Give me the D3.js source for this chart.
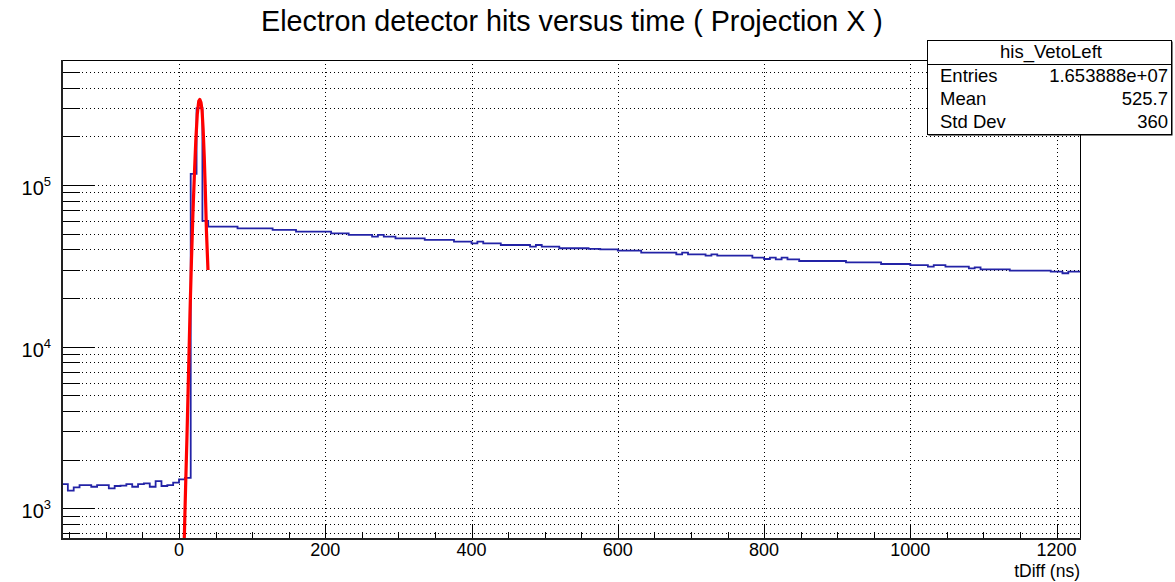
<!DOCTYPE html>
<html><head><meta charset="utf-8">
<script src="https://cdn.jsdelivr.net/npm/d3@7"></script>
<style>
body{margin:0;background:#fff}
svg{display:block}
text{font-family:"Liberation Sans",Arial,Helvetica,sans-serif;fill:#000}
</style>
</head><body><svg id="c" width="1175" height="582"></svg>
<script>
// ---------------- data ----------------
const title = "Electron detector hits versus time ( Projection X )";
const xTitle = "tDiff (ns)";
const binStart = -160, binWidth = 8;
const counts = [
  1413,1285,1348,1393,1393,1360,1393,1393,1329,1374,
  1380,1413,1360,1413,1427,1360,1475,1374,1393,1440,
  1510,1545,117000,299000,59900,
  55230,55230,55230,55230,55230,
  53950,53950,53950,53950,53950,53950,
  52710,52710,52710,52710,
  51450,51450,51450,51450,51450,51450,
  50230,50230,50230,
  49070,49070,49070,49070,
  47900,49070,47900,47900,
  46790,46790,46790,46790,46790,
  45700,45700,45700,45700,45700,
  44600,44600,44600,43570,44600,
  43570,43570,43570,
  42550,42550,42550,42550,42550,41530,42550,
  41530,41530,41530,
  40600,40600,40600,40600,40600,
  40300,40300,40000,40000,40000,
  39250,39250,39250,39250,
  38130,38130,38130,38130,38130,38130,37250,38130,
  37250,37250,37250,36530,37250,
  36530,36530,36530,36530,36530,36530,
  35500,35500,34840,35500,34700,35500,34700,34700,
  33870,33870,33870,33870,33870,33870,33870,33870,
  33240,33240,33240,33240,33240,33240,
  32440,32440,32440,32440,32440,
  31980,31980,31980,31240,31980,31980,
  31240,31240,31240,31240,30530,30900,
  30100,30100,30100,30100,30100,
  29520,29520,29520,29520,29520,29520,29520,
  29100,29100,28440,29100,29100
];
const fitX = [7, 9, 11, 13, 15, 17, 19, 21, 23, 25, 27, 28.5, 30, 31.5, 33, 34.5, 36, 37.5, 39.6];
const fitY = [600, 1350, 2900, 6800, 16000, 34000, 66000, 115000, 190000, 275000, 330000, 338000, 325000, 290000, 220000, 150000, 92000, 52000, 29800];
const xTicks = [0, 200, 400, 600, 800, 1000, 1200];
const yDecades = [1e3, 1e4, 1e5];
const yExponents = ["3", "4", "5"];
const yRange = [646, 593000];
const statsTitle = "his_VetoLeft";
const statsLabels = ["Entries", "Mean", "Std Dev"];
const statsValues = ["1.653888e+07", "525.7", "360"];

// ---------------- layout ----------------
const svg = d3.select("#c");
const L = 62, R = 1080, T = 60, B = 539;
const xEnd = binStart + counts.length * binWidth;
const x = d3.scaleLinear().domain([binStart, xEnd]).range([L, R]);
const y = d3.scaleLog().domain(yRange).range([B, T]);

svg.append("rect").attr("width", 1175).attr("height", 582).attr("fill", "#fff");
svg.append("defs").append("clipPath").attr("id", "clip")
  .append("rect").attr("x", L).attr("y", T).attr("width", R - L).attr("height", B - T);

const yAll = [];
for (let d = 100; d <= 1e6; d *= 10) {
  for (let m = 1; m <= 9; m++) {
    const v = d * m;
    if (v >= yRange[0] && v <= yRange[1]) yAll.push(v);
  }
}
const xMinor = d3.range(-150, xEnd, 50);

// grid
const grid = svg.append("g").attr("stroke", "#000").attr("stroke-width", 1)
  .attr("stroke-dasharray", "1,3").attr("fill", "none");
yAll.forEach(v => {
  const yy = Math.round(y(v)) + 0.5;
  grid.append("line").attr("x1", L).attr("x2", R).attr("y1", yy).attr("y2", yy);
});
xTicks.forEach(v => {
  const xx = Math.round(x(v)) + 0.5;
  grid.append("line").attr("x1", xx).attr("x2", xx).attr("y1", T).attr("y2", B);
});

// histogram steps
const pts = [];
counts.forEach((c, i) => {
  const x0 = binStart + i * binWidth, x1 = x0 + binWidth;
  pts.push([x(x0), y(c)], [x(x1), y(c)]);
});
svg.append("path").attr("clip-path", "url(#clip)")
  .attr("d", d3.line()(pts))
  .attr("fill", "none").attr("stroke", "#2323a6").attr("stroke-width", 1.8);

// fit curve
svg.append("path").attr("clip-path", "url(#clip)")
  .attr("d", d3.line().x((d, i) => x(fitX[i])).y((d, i) => y(fitY[i]))(fitX))
  .attr("fill", "none").attr("stroke", "#ff0000").attr("stroke-width", 3.2)
  .attr("stroke-linejoin", "round");

// ticks
const tk = svg.append("g").attr("stroke", "#000").attr("stroke-width", 1);
yAll.forEach(v => {
  const yy = Math.round(y(v)) + 0.5;
  const major = yDecades.includes(v);
  tk.append("line").attr("x1", L).attr("x2", L + (major ? 32 : 18)).attr("y1", yy).attr("y2", yy);
});
xMinor.forEach(v => {
  const xx = Math.round(x(v)) + 0.5;
  const major = xTicks.includes(v);
  tk.append("line").attr("x1", xx).attr("x2", xx).attr("y1", B).attr("y2", B - (major ? 14 : 7));
});

// frame
svg.append("rect").attr("x", L + 0.5).attr("y", T + 0.5).attr("width", R - L).attr("height", B - T)
  .attr("fill", "none").attr("stroke", "#000").attr("stroke-width", 1);
svg.append("line").attr("x1", L).attr("x2", L).attr("y1", T).attr("y2", B + 1).attr("stroke", "#222").attr("stroke-width", 2);
svg.append("line").attr("x1", L).attr("x2", R + 1).attr("y1", B).attr("y2", B).attr("stroke", "#222").attr("stroke-width", 2);

// x labels
xTicks.forEach(v => {
  svg.append("text").attr("x", x(v)).attr("y", 556).attr("text-anchor", "middle")
    .attr("font-size", 18).text(v);
});
svg.append("text").attr("x", R).attr("y", 577).attr("text-anchor", "end")
  .attr("font-size", 17.5).text(xTitle);

// y labels
yDecades.forEach((v, i) => {
  const t = svg.append("text").attr("x", 51).attr("y", y(v) + 10).attr("text-anchor", "end")
    .attr("font-size", 20);
  t.append("tspan").text("10");
  t.append("tspan").attr("dy", -9).attr("font-size", 13).text(yExponents[i]);
});

// title
svg.append("text").attr("x", 572).attr("y", 31).attr("text-anchor", "middle")
  .attr("font-size", 28.7).text(title);

// stats box
const bx = 927, by = 40, bw = 244, bh = 94;
svg.append("rect").attr("x", bx + 1.5).attr("y", by + 1.5).attr("width", bw).attr("height", bh).attr("fill", "#000");
svg.append("rect").attr("x", bx + 0.5).attr("y", by + 0.5).attr("width", bw).attr("height", bh)
  .attr("fill", "#fff").attr("stroke", "#000").attr("stroke-width", 1);
svg.append("line").attr("x1", bx).attr("x2", bx + bw).attr("y1", 64.5).attr("y2", 64.5)
  .attr("stroke", "#000").attr("stroke-width", 1);
svg.append("text").attr("x", bx + bw / 2 + 2).attr("y", 58).attr("text-anchor", "middle")
  .attr("font-size", 18.5).text(statsTitle);
statsLabels.forEach((s, i) => {
  const yy = 82 + i * 23.2;
  svg.append("text").attr("x", 940).attr("y", yy).attr("font-size", 18.5).text(s);
  svg.append("text").attr("x", 1168).attr("y", yy).attr("text-anchor", "end")
    .attr("font-size", 18.5).text(statsValues[i]);
});
</script>
</body></html>
